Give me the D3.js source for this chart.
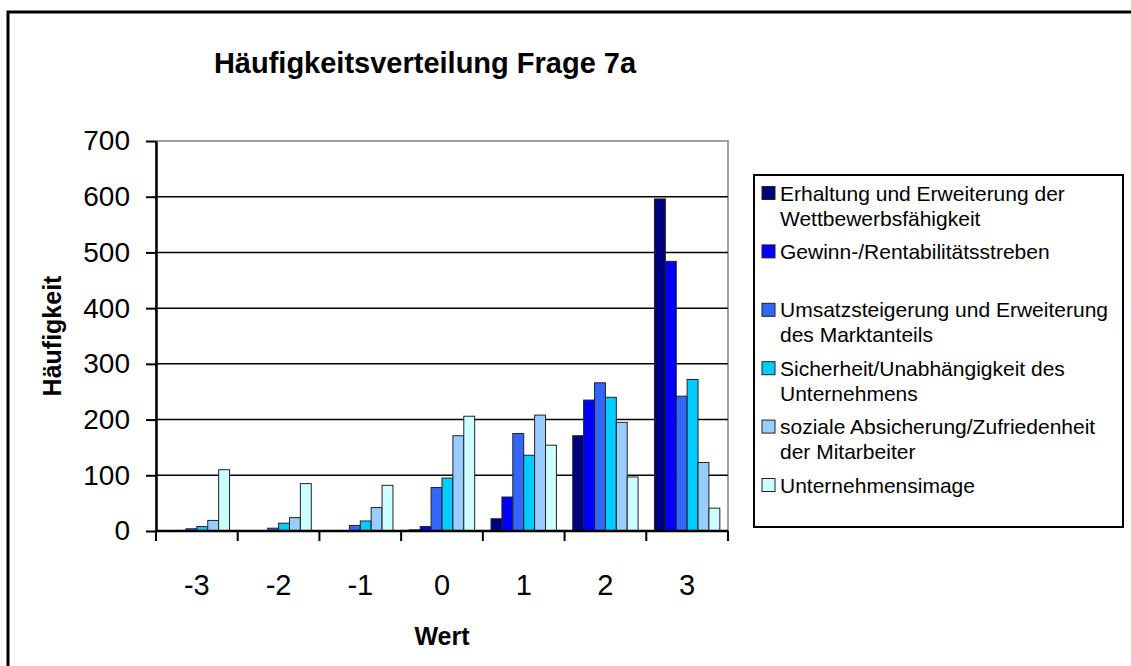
<!DOCTYPE html>
<html>
<head>
<meta charset="utf-8">
<script src="https://cdn.jsdelivr.net/npm/d3@7"></script>
<style>
  body { margin: 0; background: #fff; }
  text { font-family: "Liberation Sans", Arial, sans-serif; fill: #000; }
</style>
</head>
<body>
<div id="chart"></div>
<script>
// values (Häufigkeit per Wert)
const categories = ["-3", "-2", "-1", "0", "1", "2", "3"];
const seriesNames = [
  "Erhaltung und Erweiterung der Wettbewerbsfähigkeit",
  "Gewinn-/Rentabilitätsstreben",
  "Umsatzsteigerung und Erweiterung des Marktanteils",
  "Sicherheit/Unabhängigkeit des Unternehmens",
  "soziale Absicherung/Zufriedenheit der Mitarbeiter",
  "Unternehmensimage"
];
// legend lines as they wrap in the original
const legendLines = [
  ["Erhaltung und Erweiterung der", "Wettbewerbsfähigkeit"],
  ["Gewinn-/Rentabilitätsstreben"],
  ["Umsatzsteigerung und Erweiterung", "des Marktanteils"],
  ["Sicherheit/Unabhängigkeit des", "Unternehmens"],
  ["soziale Absicherung/Zufriedenheit", "der Mitarbeiter"],
  ["Unternehmensimage"]
];
const erhaltung   = [0, 0, 0, 2, 22, 171, 596];
const gewinn      = [1, 0, 0, 8, 61, 235, 484];
const umsatz      = [4, 5, 10, 78, 175, 266, 242];
const sicherheit  = [8, 14, 18, 95, 136, 240, 272];
const sozial      = [19, 24, 42, 171, 208, 195, 123];
const image       = [110, 85, 82, 206, 154, 97, 41];
const yTicks = [0, 100, 200, 300, 400, 500, 600, 700];
const colors = ['#000080', '#0000ff', '#3366ff', '#00ccff', '#99ccff', '#ccffff'];

const seriesValues = [erhaltung, gewinn, umsatz, sicherheit, sozial, image];

const width = 1131, height = 666;
const plot = ({left: 156, right: 728, top: 141, bottom: 531});

let svg = d3.select('#chart').append('svg')
  .attr('width', width)
  .attr('height', height);

// outer chart frame (runs off the right/bottom edge)
svg.append('rect')
  .attr('x', 8).attr('y', 12)
  .attr('width', 1140).attr('height', 680)
  .attr('fill', '#fff').attr('stroke', '#000').attr('stroke-width', 3);

let x0 = d3.scaleBand().domain(categories).range([plot.left, plot.right]);
let x1 = d3.scaleBand().domain(d3.range(seriesNames.length))
  .range([0, x0.bandwidth()]).paddingOuter(0.75);
let y = d3.scaleLinear().domain([0, 700]).range([plot.bottom, plot.top]);

// plot area border
svg.append('rect')
  .attr('x', plot.left).attr('y', plot.top)
  .attr('width', plot.right - plot.left).attr('height', plot.bottom - plot.top)
  .attr('fill', '#fff').attr('stroke', '#808080').attr('stroke-width', 1.5);

// gridlines
svg.append('g').selectAll('line')
  .data(yTicks.filter(d => d > 0 && d < 700))
  .join('line')
  .attr('x1', plot.left).attr('x2', plot.right)
  .attr('y1', d => y(d)).attr('y2', d => y(d))
  .attr('stroke', '#000').attr('stroke-width', 1.5);

// bars
let groups = svg.append('g').selectAll('g')
  .data(categories)
  .join('g')
  .attr('transform', d => `translate(${x0(d)},0)`);

groups.selectAll('rect')
  .data((c, i) => seriesValues.map((s, k) => ({k: k, v: s[i]})))
  .join('rect')
  .filter(d => d.v > 0)
  .attr('x', d => x1(d.k))
  .attr('width', x1.bandwidth())
  .attr('y', d => y(d.v))
  .attr('height', d => y(0) - y(d.v))
  .attr('fill', d => colors[d.k])
  .attr('stroke', '#222').attr('stroke-width', 1);

// y axis
let yAxis = d3.axisLeft(y).tickValues(yTicks).tickSize(10).tickSizeOuter(0).tickPadding(16);
let yg = svg.append('g')
  .attr('transform', `translate(${plot.left},0)`)
  .call(yAxis);
yg.select('.domain').attr('stroke', '#000').attr('stroke-width', 2.5);
yg.selectAll('.tick line').attr('stroke', '#000').attr('stroke-width', 2);
yg.selectAll('.tick text')
  .style('font-family', '"Liberation Sans", Arial, sans-serif')
  .style('font-size', '28px').attr('fill', '#000');

// x axis: ticks between categories
let xg = svg.append('g')
  .attr('transform', `translate(0,${plot.bottom})`);
xg.append('line')
  .attr('x1', plot.left).attr('x2', plot.right)
  .attr('stroke', '#000').attr('stroke-width', 2.5);
xg.selectAll('line.tk')
  .data(categories.map(c => x0(c)).concat([plot.right]))
  .join('line').attr('class', 'tk')
  .attr('x1', d => d).attr('x2', d => d)
  .attr('y1', 0).attr('y2', 10)
  .attr('stroke', '#000').attr('stroke-width', 2);
xg.selectAll('text')
  .data(categories)
  .join('text')
  .attr('x', d => x0(d) + x0.bandwidth() / 2)
  .attr('y', 64)
  .attr('text-anchor', 'middle')
  .style('font-size', '29px')
  .text(d => d);

// title and axis labels
svg.append('text')
  .attr('x', 425).attr('y', 73)
  .attr('text-anchor', 'middle')
  .style('font-size', '29px').style('font-weight', 'bold')
  .text('Häufigkeitsverteilung Frage 7a');

svg.append('text')
  .attr('x', (plot.left + plot.right) / 2).attr('y', 645)
  .attr('text-anchor', 'middle')
  .style('font-size', '25px').style('font-weight', 'bold')
  .text('Wert');

svg.append('text')
  .attr('transform', `translate(61,${(plot.top + plot.bottom) / 2}) rotate(-90)`)
  .attr('text-anchor', 'middle')
  .style('font-size', '25px').style('font-weight', 'bold')
  .text('Häufigkeit');

// legend
let legend = svg.append('g').attr('transform', 'translate(754,175)');
legend.append('rect')
  .attr('width', 369).attr('height', 352)
  .attr('fill', '#fff').attr('stroke', '#000').attr('stroke-width', 2);

let items = legend.selectAll('g.item')
  .data(legendLines)
  .join('g').attr('class', 'item')
  .attr('transform', (d, i) => `translate(8,${18 + i * 58.4})`);

items.append('rect')
  .attr('x', 0).attr('y', -6.5)
  .attr('width', 13).attr('height', 13)
  .attr('fill', (d, i) => colors[i])
  .attr('stroke', '#222').attr('stroke-width', 1);

items.append('text')
  .attr('x', 18)
  .style('font-size', '21px')
  .selectAll('tspan')
  .data(d => d)
  .join('tspan')
  .attr('x', 18)
  .attr('y', (d, j) => 7.5 + j * 25)
  .text(d => d);
</script>
</body>
</html>
